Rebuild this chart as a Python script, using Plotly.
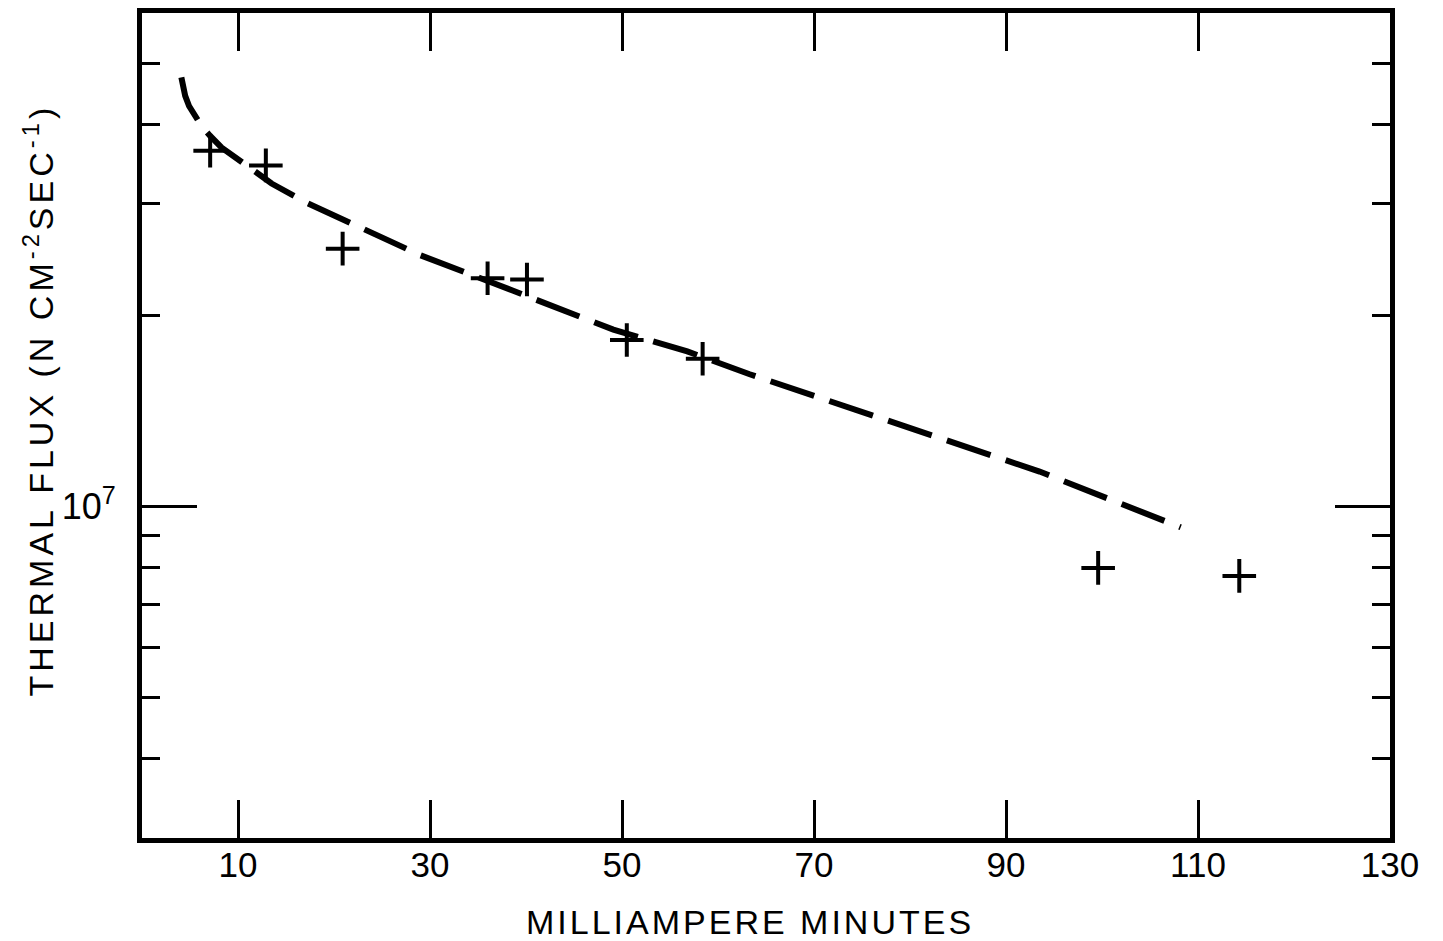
import math
import plotly.graph_objects as go

# ---- data ----
x_ticks = [10, 30, 50, 70, 90, 110, 130]
x_tick_labels = ["10", "30", "50", "70", "90", "110", "130"]

y_major_ticks = [1e7]
y_major_labels = ["10<sup>7</sup>"]
y_minor_ticks = [4e6, 5e6, 6e6, 7e6, 8e6, 9e6, 2e7, 3e7, 4e7, 5e7]

# measured points (+ markers)
meas_x = [7.1, 12.9, 20.9, 36.0, 40.1, 50.5, 58.4, 99.6, 114.3]
meas_y = [3.64e7, 3.45e7, 2.55e7, 2.29e7, 2.28e7, 1.83e7, 1.71e7, 8.0e6, 7.77e6]

# dashed fitted curve
fit_x = [4.1, 4.27, 4.5, 4.9, 5.52, 6.25, 7.1, 8.3, 11.6, 13.5, 17.2, 29.0,
         38.6, 49.1, 56.8, 63.3, 93.5, 99.0, 104.6, 108.2]
fit_y = [4.75e7, 4.59e7, 4.44e7, 4.28e7, 4.12e7, 3.97e7, 3.84e7, 3.68e7, 3.39e7,
         3.23e7, 3.01e7, 2.49e7, 2.19e7, 1.90e7, 1.756e7, 1.616e7, 1.135e7,
         1.052e7, 9.78e6, 9.27e6]

x_range = [0, 130]
y_range = [3e6, 6e7]

x_title = "MILLIAMPERE MINUTES"
y_title = "THERMAL FLUX (N CM<sup>-2</sup>SEC<sup>-1</sup>)"

FONT = "Liberation Sans"

fig = go.Figure()
fig.add_trace(go.Scatter(
    x=fit_x, y=fit_y, mode="lines",
    line=dict(color="black", width=6, dash="46px,16px"),
    hoverinfo="skip"))
fig.add_trace(go.Scatter(
    x=meas_x, y=meas_y, mode="markers",
    marker=dict(symbol="cross-thin", size=24, color="black",
                line=dict(color="black", width=4))))

fig.update_layout(
    width=1443, height=941,
    margin=dict(l=142, r=53, t=8, b=103),
    paper_bgcolor="white", plot_bgcolor="white",
    showlegend=False,
    font=dict(family=FONT, color="black", size=34),
)

fig.update_xaxes(
    range=x_range, tickmode="array", tickvals=x_ticks, ticktext=x_tick_labels,
    ticks="inside", ticklen=38, tickwidth=2.5, tickcolor="black",
    showline=True, linewidth=5, linecolor="black", mirror="allticks",
    showgrid=False, zeroline=False, tickfont=dict(size=35, family=FONT),
    ticklabelstandoff=-8,
)

fig.update_yaxes(
    type="log", range=[math.log10(y_range[0]), math.log10(y_range[1])],
    tickmode="array", tickvals=y_major_ticks, ticktext=y_major_labels,
    ticks="inside", ticklen=55, tickwidth=3, tickcolor="black",
    minor=dict(tickmode="array", tickvals=y_minor_ticks, ticks="inside",
               ticklen=18, tickwidth=3, tickcolor="black", showgrid=False),
    showline=True, linewidth=5, linecolor="black", mirror="allticks",
    showgrid=False, zeroline=False, tickfont=dict(size=36, family=FONT),
    ticklabelstandoff=14,
)

fig.add_annotation(
    text='<span style="letter-spacing:3px">' + x_title + '</span>',
    xref="paper", yref="paper", x=0.5, y=0, xanchor="center", yanchor="middle",
    xshift=-16, yshift=-84, showarrow=False, font=dict(size=34, family=FONT))

fig.add_annotation(
    text='<span style="letter-spacing:4px">' + y_title + '</span>',
    xref="paper", yref="paper", x=0, y=0.5, xanchor="center", yanchor="middle",
    xshift=-104, yshift=25, textangle=-90, showarrow=False,
    font=dict(size=34, family=FONT))

fig.write_html("out.html")
